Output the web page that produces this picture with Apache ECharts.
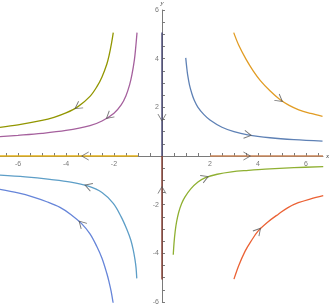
<!DOCTYPE html>
<html><head><meta charset="utf-8">
<script src="https://cdn.jsdelivr.net/npm/echarts@6/dist/echarts.min.js"></script>
<style>html,body{margin:0;padding:0;background:#fff}#c{width:332px;height:306px}</style>
</head><body><div id="c"></div>
<script>
// Trajectories (ordered in flow direction)
const curveOlive  = [[-2.03,5.07],[-2.1,4.65],[-2.2,4.15],[-2.3,3.77],[-2.5,3.25],[-2.7,2.87],[-3.0,2.45],[-3.5,2.03],[-4.0,1.77],[-4.5,1.59],[-5.0,1.46],[-6.0,1.28],[-6.75,1.18]];
const curvePurple = [[-1.04,5.07],[-1.1,4.4],[-1.15,3.95],[-1.25,3.35],[-1.35,2.92],[-1.5,2.48],[-1.7,2.1],[-2.0,1.76],[-2.5,1.44],[-3.0,1.25],[-4.0,1.05],[-5.0,0.93],[-6.0,0.85],[-6.75,0.80]];
const curveBlueTR = [[0.99,4.03],[1.03,3.65],[1.07,3.33],[1.15,2.9],[1.25,2.55],[1.35,2.28],[1.5,2.0],[1.75,1.7],[2.0,1.48],[2.5,1.18],[3.0,1.0],[3.57,0.87],[4.5,0.75],[5.5,0.67],[6.69,0.61]];
const curveOrange = [[2.99,5.07],[3.2,4.55],[3.5,3.98],[3.8,3.5],[4.1,3.1],[4.5,2.68],[4.9,2.33],[5.3,2.08],[5.7,1.9],[6.2,1.75],[6.69,1.63]];
const curveCyan   = [[-1.05,-5.03],[-1.08,-4.6],[-1.125,-4.26],[-1.2,-3.85],[-1.3,-3.45],[-1.47,-3.0],[-1.7,-2.5],[-2.03,-1.95],[-2.5,-1.5],[-3.07,-1.24],[-3.8,-1.07],[-4.67,-0.96],[-5.7,-0.86],[-6.75,-0.79]];
const curveBlueBL = [[-2.03,-6.07],[-2.12,-5.55],[-2.2,-5.2],[-2.3,-4.82],[-2.5,-4.2],[-2.72,-3.71],[-3.0,-3.2],[-3.35,-2.78],[-3.8,-2.4],[-4.25,-2.11],[-4.8,-1.88],[-5.36,-1.69],[-6.0,-1.52],[-6.75,-1.375]];
const curveGreen  = [[0.47,-4.06],[0.5,-3.6],[0.55,-3.1],[0.61,-2.7],[0.7,-2.3],[0.82,-1.95],[0.96,-1.68],[1.2,-1.35],[1.5,-1.07],[1.79,-0.9],[2.3,-0.75],[2.9,-0.65],[3.6,-0.59],[4.3,-0.54],[5.5,-0.48],[6.72,-0.44]];
const curveRed    = [[3.0,-5.06],[3.2,-4.5],[3.46,-3.92],[3.7,-3.52],[4.01,-3.08],[4.4,-2.72],[4.85,-2.39],[5.25,-2.12],[5.68,-1.92],[6.2,-1.76],[6.72,-1.63]];
const axisXNeg = [[-1.0,0],[-6.75,0]];
const axisXPos = [[2.0,0],[6.71,0]];
const axisYPos = [[0,5.08],[0,0]];
const axisYNeg = [[0,-5.08],[0,0]];

const curves = [curveOlive, curvePurple, curveBlueTR, curveOrange, curveCyan, curveBlueBL, curveGreen, curveRed, axisXNeg, axisXPos, axisYPos, axisYNeg];
const colors = ['#929600','#A5609D','#5E81B5','#E19C24','#5D9EC7','#6685D9','#8FB032','#EB6235','#E3B01A','#C98659','#3F3F70','#7F3226'];
// arrow positions, one per curve
const arrows = [[-3.5,2.03],[-2.2,1.64],[3.57,0.87],[4.9,2.33],[-3.07,-1.24],[-3.35,-2.78],[1.79,-0.9],[4.01,-3.08],[-3.2,0],[3.54,0],[0,1.58],[0,-1.4]];

const xLabels = [-6,-4,-2,2,4,6];
const yLabels = [-6,-4,-2,2,4,6];
const xTicks = [], yTicks = [];
for (let v = -6.5; v <= 6.5; v += 0.5) { if (v !== 0) xTicks.push(v); }
for (let v = -6; v <= 6; v += 0.5) { if (v !== 0) yTicks.push(v); }

const chart = echarts.init(document.getElementById('c'), null, {renderer:'canvas'});
const tickColor = '#7a7a7a';
const lbl = {color:'#555', fontSize:7, fontFamily:'Liberation Sans'};
const series = curves.map((c,i)=>({
  type:'line', data:c, showSymbol:false, smooth:0.35, clip:true, z:2,
  lineStyle:{color:colors[i], width:1.3}, silent:true
}));
// tick labels placed through the axis scales
series.push({
  type:'scatter', data:xLabels.map(v=>[v,0]), symbol:'circle', symbolSize:0, z:3, silent:true,
  label:Object.assign({show:true, position:'bottom', distance:5, formatter:p=>String(p.value[0])}, lbl)
});
series.push({
  type:'scatter', data:yLabels.map(v=>[0,v]), symbol:'circle', symbolSize:0, z:3, silent:true,
  label:Object.assign({show:true, position:'left', distance:3, formatter:p=>String(p.value[1])}, lbl)
});
series.push({
  type:'scatter', data:arrows.map(a=>({value:a})), z:5,
  symbol:'path://M0,0L10,5L0,10', symbolSize:[7,8],
  itemStyle:{color:'rgba(0,0,0,0)', borderColor:'#555', borderWidth:0.9}
});
chart.setOption({
  animation:false,
  grid:{left:0, right:9, top:10, bottom:4, containLabel:false, outerBoundsMode:'none'},
  xAxis:{type:'value', min:-6.75, max:6.71, position:'bottom',
      name:'x', nameLocation:'end', nameGap:3,
      nameTextStyle:{color:'#444', fontSize:7, fontStyle:'italic', fontFamily:'Liberation Serif'},
      axisLine:{onZero:true, lineStyle:{color:tickColor, width:1}},
      axisTick:{show:true, inside:true, length:3, customValues:xTicks, lineStyle:{color:tickColor}},
      axisLabel:{show:false}, splitLine:{show:false}},
  yAxis:{type:'value', min:-6, max:6, position:'left',
      name:'y', nameLocation:'end', nameGap:3,
      nameTextStyle:{color:'#444', fontSize:7, fontStyle:'italic', fontFamily:'Liberation Serif', align:'center'},
      axisLine:{onZero:true, lineStyle:{color:tickColor, width:1}},
      axisTick:{show:true, inside:true, length:3, customValues:yTicks, lineStyle:{color:tickColor}},
      axisLabel:{show:false}, splitLine:{show:false}},
  series: series
});
// orient arrows along the flow direction using the chart's own scales
function nearestIdx(c, p){ let b=0, bd=Infinity; c.forEach((q,i)=>{const d=(q[0]-p[0])**2+(q[1]-p[1])**2; if(d<bd){bd=d;b=i;}}); return b; }
const arrowData = arrows.map((a,k)=>{
  const c = curves[k];
  let i = nearestIdx(c,a);
  let i0 = Math.max(0,i-1), i1 = Math.min(c.length-1,i+1);
  const p0 = chart.convertToPixel({xAxisIndex:0,yAxisIndex:0}, c[i0]);
  const p1 = chart.convertToPixel({xAxisIndex:0,yAxisIndex:0}, c[i1]);
  const ang = Math.atan2(-(p1[1]-p0[1]), p1[0]-p0[0]) * 180/Math.PI;
  return {value:a, symbolRotate:ang};
});
series[series.length-1].data = arrowData;
chart.setOption({series: series});
</script></body></html>
